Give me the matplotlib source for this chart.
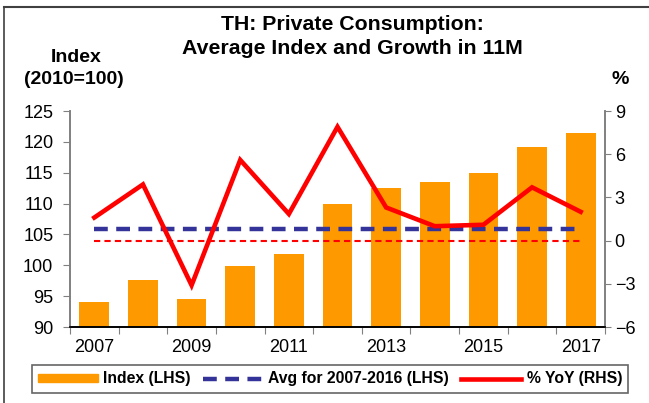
import numpy as np
import matplotlib.pyplot as plt
from matplotlib.lines import Line2D
from matplotlib.patches import Patch

plt.rcParams['font.family'] = ['Liberation Sans', 'DejaVu Sans']

# datos
years = ['2007', '2008', '2009', '2010', '2011', '2012', '2013', '2014', '2015', '2016', '2017']
index_vals = [94.0, 97.6, 94.5, 99.9, 101.8, 109.9, 112.5, 113.5, 114.9, 119.1, 121.5]
yoy_vals = [1.6, 3.9, -3.1, 5.6, 1.85, 7.9, 2.3, 1.0, 1.1, 3.7, 2.0]
avg_0716 = 105.8
year_labels = ['2007', '2009', '2011', '2013', '2015', '2017']

x = np.arange(len(years))

fig = plt.figure(figsize=(6.49, 4.03), dpi=100)
ax = fig.add_axes([70/649, 1-327/403, 535/649, 216/403])
ax2 = ax.twinx()

ax.bar(x, index_vals, width=0.61, color='#FF9900', zorder=1)
ax.plot(x, [avg_0716]*len(x), color='#333399', lw=3.2, dashes=(3.1, 1.9), zorder=3)
ax2.plot(x, [0]*len(x), color='#FF0000', lw=1.5, dashes=(3, 2), zorder=2)
ax2.plot(x, yoy_vals, color='#FF0000', lw=3.3, zorder=4, solid_joinstyle='miter')

ax.set_ylim(90, 125)
ax.set_yticks(np.arange(90, 126, 5))
ax2.set_ylim(-6, 9)
ax2.set_yticks(np.arange(-6, 10, 3))
ax.set_xlim(-0.5, len(x) - 0.5)

# ticks entre categorias, etiquetas cada dos años
ax.set_xticks(np.arange(-0.5, len(x), 1))
ax.set_xticklabels([])
ax.set_xticks(x[::2], minor=True)
ax.set_xticklabels(year_labels, minor=True)
ax.tick_params(axis='x', which='major', length=5, direction='out', color='#808080')
ax.tick_params(axis='x', which='minor', length=0, pad=9, labelsize=13)
ax.tick_params(axis='y', length=5, color='#808080', labelsize=13, pad=7)
ax2.tick_params(axis='y', length=4, color='#808080', labelsize=13, pad=3)

for a in (ax, ax2):
    a.spines['top'].set_visible(False)
    for s in ('left', 'right', 'bottom'):
        a.spines[s].set_color('#808080')
        a.spines[s].set_linewidth(1.2)
ax.spines['bottom'].set_color('#000000')
ax2.spines['bottom'].set_color('#000000')

fig.text(352/649, 1-25/403, 'TH: Private Consumption:', ha='center', va='center',
         fontsize=15.3, fontweight='bold')
fig.text(352/649, 1-49/403, 'Average Index and Growth in 11M', ha='center', va='center',
         fontsize=15.3, fontweight='bold')
fig.text(76/649, 1-57/403, 'Index', ha='center', va='center', fontsize=14, fontweight='bold')
fig.text(74/649, 1-79/403, '(2010=100)', ha='center', va='center', fontsize=14, fontweight='bold')
fig.text(620/649, 1-79/403, '%', ha='center', va='center', fontsize=14, fontweight='bold')

handles = [Patch(color='#FF9900'),
           Line2D([], [], color='#333399', lw=3.2, dashes=(3.1, 1.9)),
           Line2D([], [], color='#FF0000', lw=3.3)]
labels = ['Index (LHS)', 'Avg for 2007-2016 (LHS)', '% YoY (RHS)']
leg = fig.legend(handles, labels, loc='center', bbox_to_anchor=(330/649, 1-379/403),
                 ncol=3, frameon=True, fancybox=False, edgecolor='#404040',
                 prop={'weight': 'bold', 'size': 11.3}, handlelength=3.8,
                 handleheight=0.45, columnspacing=0.8, handletextpad=0.35,
                 borderpad=0.4, borderaxespad=0)
leg.get_frame().set_linewidth(1.2)

# marco exterior
fig.add_artist(Line2D([4/649, 4/649], [0, 1-7/403], color='#404040', lw=1.2))
fig.add_artist(Line2D([4/649, 1], [1-7/403, 1-7/403], color='#404040', lw=1.5))

fig.savefig('out.png', dpi=100)
